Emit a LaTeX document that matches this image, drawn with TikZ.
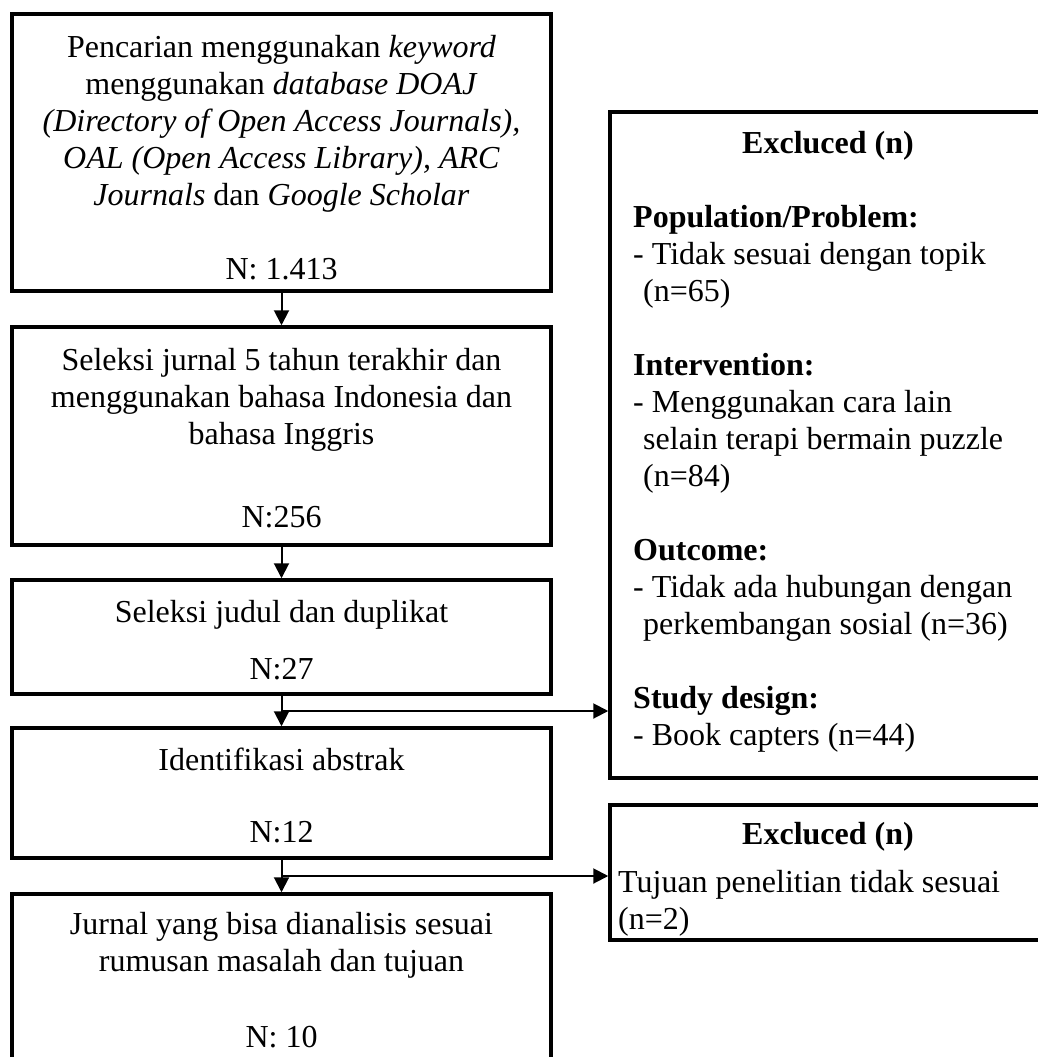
\documentclass[tikz,border=0pt]{standalone}
\usepackage{fontspec}
\setmainfont{Liberation Serif}
\usetikzlibrary{arrows.meta,calc}
\begin{document}
\begin{tikzpicture}[x=1pt,y=-1pt,
  box/.style={draw,line width=3.5pt,inner sep=0pt},
  txt/.style={anchor=base,inner sep=0pt,font=\fontsize{32}{37}\selectfont},
  ltxt/.style={anchor=base west,inner sep=0pt,font=\fontsize{32}{37}\selectfont},
  arr/.style={line width=2pt,-{Triangle[length=15pt,width=15pt]}}]
\useasboundingbox (0,0) rectangle (1038,1057);
% left column boxes
\node[box,minimum width=539pt,minimum height=277pt] (b1) at (281.5,152.5) {};
\node[box,minimum width=539pt,minimum height=218pt] (b2) at (281.5,436) {};
\node[box,minimum width=539pt,minimum height=114pt] (b3) at (281.5,637) {};
\node[box,minimum width=539pt,minimum height=130pt] (b4) at (281.5,793) {};
\node[box,minimum width=539pt,minimum height=200pt] (b5) at (281.5,994) {};
% right boxes
\node[box,minimum width=436pt,minimum height=666pt] (r1) at (828,445) {};
\node[box,minimum width=436pt,minimum height=135pt] (r2) at (828,872.5) {};
% box 1 text
\node[txt] (t1a) at (281.5,57) {Pencarian menggunakan \textit{keyword}};
\node[txt] (t1b) at (281.5,94) {menggunakan \textit{database DOAJ}};
\node[txt] (t1c) at (281.5,131) {\textit{(Directory of Open Access Journals),}};
\node[txt] (t1d) at (281.5,168) {\textit{OAL (Open Access Library), ARC}};
\node[txt] (t1e) at (281.5,205) {\textit{Journals} dan \textit{Google Scholar}};
\node[txt] (t1n) at (281.5,279) {N: 1.413};
% box 2 text
\node[txt] (t2a) at (281.5,370) {Seleksi jurnal 5 tahun terakhir dan};
\node[txt] (t2b) at (281.5,407) {menggunakan bahasa Indonesia dan};
\node[txt] (t2c) at (281.5,444) {bahasa Inggris};
\node[txt] (t2n) at (281.5,527) {N:256};
% box 3 text
\node[txt] (t3a) at (281.5,622) {Seleksi judul dan duplikat};
\node[txt] (t3n) at (281.5,679) {N:27};
% box 4 text
\node[txt] (t4a) at (281.5,770) {Identifikasi abstrak};
\node[txt] (t4n) at (281.5,842) {N:12};
% box 5 text
\node[txt] (t5a) at (281.5,934) {Jurnal yang bisa dianalisis sesuai};
\node[txt] (t5b) at (281.5,971) {rumusan masalah dan tujuan};
\node[txt] (t5n) at (281.5,1047) {N: 10};
% right box 1 text
\node[txt] (r1h) at (828,153) {\textbf{Excluced (n)}};
\node[ltxt] (r1a) at (633,227) {\textbf{Population/Problem:}};
\node[ltxt] (r1b) at (633,264) {- Tidak sesuai dengan topik};
\node[ltxt] (r1c) at (643,301) {(n=65)};
\node[ltxt] (r1d) at (633,375) {\textbf{Intervention:}};
\node[ltxt] (r1e) at (633,412) {- Menggunakan cara lain};
\node[ltxt] (r1f) at (643,449) {selain terapi bermain puzzle};
\node[ltxt] (r1g) at (643,486) {(n=84)};
\node[ltxt] (r1h2) at (633,560) {\textbf{Outcome:}};
\node[ltxt] (r1i) at (633,597) {- Tidak ada hubungan dengan};
\node[ltxt] (r1j) at (643,634) {perkembangan sosial (n=36)};
\node[ltxt] (r1k) at (633,708) {\textbf{Study design:}};
\node[ltxt] (r1l) at (633,745) {- Book capters (n=44)};
% right box 2 text
\node[txt] (r2h) at (828,844) {\textbf{Excluced (n)}};
\node[ltxt] (r2a) at (618,892) {Tujuan penelitian tidak sesuai};
\node[ltxt] (r2b) at (618,929) {(n=2)};
% connectors
\draw[arr] (b1.south) -- (b2.north);
\draw[arr] (b2.south) -- (b3.north);
\draw[arr] (b3.south) -- (b4.north);
\draw[arr] (b4.south) -- (b5.north);
\coordinate (j1) at ($(b3.south)!0.5!(b4.north)$);
\coordinate (j2) at ($(b4.south)!0.5!(b5.north)$);
\draw[arr] (j1) -- (j1 -| r1.west);
\draw[arr] (j2) -- (j2 -| r2.west);
\end{tikzpicture}
\end{document}
